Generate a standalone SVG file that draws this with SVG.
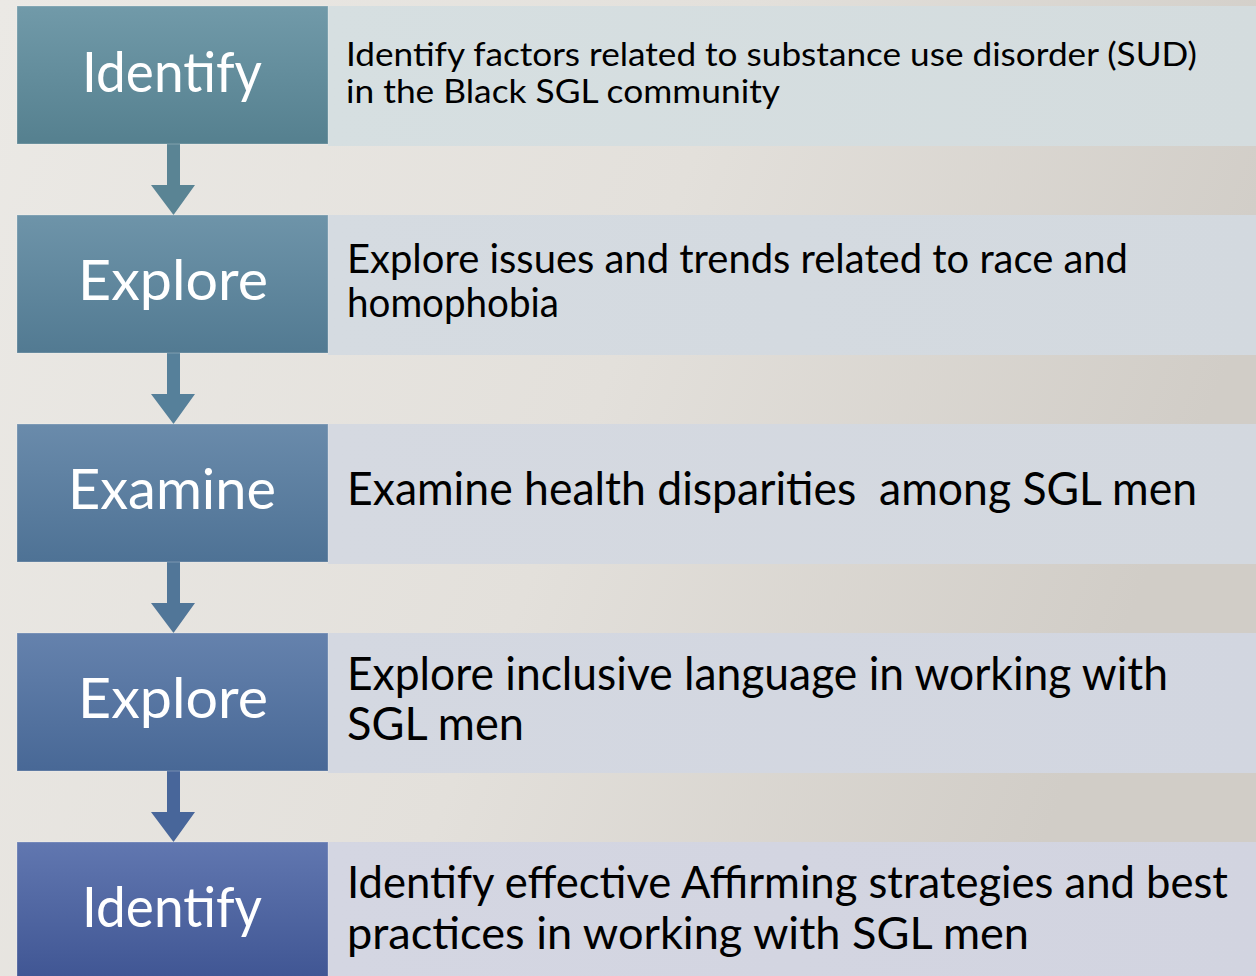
<svg xmlns="http://www.w3.org/2000/svg" width="1256" height="976" viewBox="0 0 1256 976">
<defs>
<linearGradient id="bg" x1="0" y1="0" x2="1" y2="0.3">
<stop offset="0" stop-color="#ebe9e5"/>
<stop offset="0.55" stop-color="#e3e0db"/>
<stop offset="1" stop-color="#d1cdc7"/>
</linearGradient>
<linearGradient id="g1" x1="0" y1="0" x2="0" y2="1"><stop offset="0" stop-color="#719aa9"/><stop offset="1" stop-color="#55808f"/></linearGradient>
<linearGradient id="g2" x1="0" y1="0" x2="0" y2="1"><stop offset="0" stop-color="#6e94a9"/><stop offset="1" stop-color="#527a92"/></linearGradient>
<linearGradient id="g3" x1="0" y1="0" x2="0" y2="1"><stop offset="0" stop-color="#6a8bab"/><stop offset="1" stop-color="#4e7295"/></linearGradient>
<linearGradient id="g4" x1="0" y1="0" x2="0" y2="1"><stop offset="0" stop-color="#6582ad"/><stop offset="1" stop-color="#486896"/></linearGradient>
<linearGradient id="g5" x1="0" y1="0" x2="0" y2="1"><stop offset="0" stop-color="#6177b0"/><stop offset="1" stop-color="#3f5593"/></linearGradient>
<linearGradient id="p1" x1="0" y1="0" x2="1" y2="0"><stop offset="0" stop-color="#d6dfe1"/><stop offset="1" stop-color="#d4dcde"/></linearGradient>
<linearGradient id="p2" x1="0" y1="0" x2="1" y2="0"><stop offset="0" stop-color="#d5dbe1"/><stop offset="1" stop-color="#d3d9df"/></linearGradient>
<linearGradient id="p3" x1="0" y1="0" x2="1" y2="0"><stop offset="0" stop-color="#d5d9e1"/><stop offset="1" stop-color="#d3d8df"/></linearGradient>
<linearGradient id="p4" x1="0" y1="0" x2="1" y2="0"><stop offset="0" stop-color="#d4d8e1"/><stop offset="1" stop-color="#d2d6e0"/></linearGradient>
<linearGradient id="p5" x1="0" y1="0" x2="1" y2="0"><stop offset="0" stop-color="#d4d6e2"/><stop offset="1" stop-color="#d2d4e0"/></linearGradient>
</defs>
<style>
.box{stroke:#ffffff;stroke-opacity:0.25;stroke-width:1}
.lbl{font-family:"Lato","Liberation Sans",sans-serif;fill:#ffffff;text-anchor:start}
.txt{font-family:"Lato","Liberation Sans",sans-serif;fill:#000000}
</style>
<rect x="0" y="0" width="1256" height="976" fill="url(#bg)"/>
<g id="connectors">
<path d="M167 144 H180 V185 H195 L173.5 215 L151 185 H167 Z" fill="#5a8494"/>
<path d="M167 353 H180 V394 H195 L173.5 424 L151 394 H167 Z" fill="#56809a"/>
<path d="M167 562 H180 V603 H195 L173.5 633 L151 603 H167 Z" fill="#517698"/>
<path d="M167 771 H180 V812 H195 L173.5 842 L151 812 H167 Z" fill="#48669a"/>
</g>
<g id="node1">
<rect x="328" y="6" width="928" height="140" fill="url(#p1)"/>
<rect class="box" x="17" y="6" width="311" height="138" fill="url(#g1)"/>
<text class="lbl" x="82" y="92" font-size="56" textLength="180" lengthAdjust="spacingAndGlyphs">Identify</text>
<text class="txt" x="346" y="66" font-size="32" textLength="851" lengthAdjust="spacingAndGlyphs">Identify factors related to substance use disorder (SUD)</text>
<text class="txt" x="346" y="103" font-size="32" textLength="434" lengthAdjust="spacingAndGlyphs">in the Black SGL community</text>
</g>
<g id="node2">
<rect x="328" y="215" width="928" height="140" fill="url(#p2)"/>
<rect class="box" x="17" y="215" width="311" height="138" fill="url(#g2)"/>
<text class="lbl" x="78" y="300" font-size="56" textLength="190" lengthAdjust="spacingAndGlyphs">Explore</text>
<text class="txt" x="347" y="273" font-size="40" textLength="781" lengthAdjust="spacingAndGlyphs">Explore issues and trends related to race and</text>
<text class="txt" x="347" y="317" font-size="40" textLength="212" lengthAdjust="spacingAndGlyphs">homophobia</text>
</g>
<g id="node3">
<rect x="328" y="424" width="928" height="140" fill="url(#p3)"/>
<rect class="box" x="17" y="424" width="311" height="138" fill="url(#g3)"/>
<text class="lbl" x="68" y="509" font-size="56" textLength="208" lengthAdjust="spacingAndGlyphs">Examine</text>
<text class="txt" x="347" y="505" font-size="46" textLength="850" lengthAdjust="spacingAndGlyphs" xml:space="preserve">Examine health disparities  among SGL men</text>
</g>
<g id="node4">
<rect x="328" y="633" width="928" height="140" fill="url(#p4)"/>
<rect class="box" x="17" y="633" width="311" height="138" fill="url(#g4)"/>
<text class="lbl" x="78" y="718" font-size="56" textLength="190" lengthAdjust="spacingAndGlyphs">Explore</text>
<text class="txt" x="347" y="690" font-size="46" textLength="821" lengthAdjust="spacingAndGlyphs">Explore inclusive language in working with</text>
<text class="txt" x="347" y="740" font-size="46" textLength="177" lengthAdjust="spacingAndGlyphs">SGL men</text>
</g>
<g id="node5">
<rect x="328" y="842" width="928" height="140" fill="url(#p5)"/>
<rect class="box" x="17" y="842" width="311" height="140" fill="url(#g5)"/>
<text class="lbl" x="82" y="927" font-size="56" textLength="180" lengthAdjust="spacingAndGlyphs">Identify</text>
<text class="txt" x="347" y="898" font-size="45" textLength="881" lengthAdjust="spacingAndGlyphs">Identify effective Affirming strategies and best</text>
<text class="txt" x="347" y="949" font-size="45" textLength="682" lengthAdjust="spacingAndGlyphs">practices in working with SGL men</text>
</g>
</svg>
